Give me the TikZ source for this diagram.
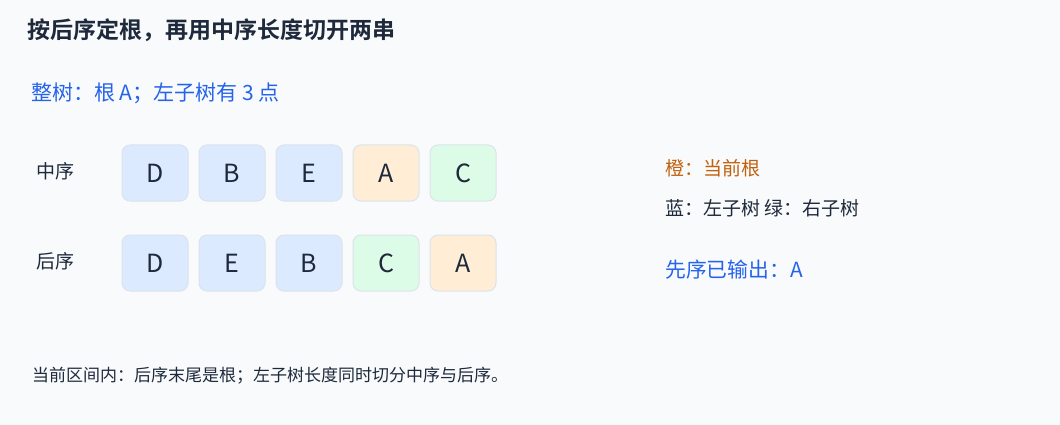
\documentclass[tikz,border=0pt]{standalone}
\usepackage{fontspec}
\setmainfont{Noto Sans CJK SC}
\newfontfamily\cjkbold{Noto Sans CJK SC Bold}
\definecolor{bg}{HTML}{F8FAFC}
\definecolor{ink}{HTML}{1E293B}
\definecolor{blueT}{HTML}{2563EB}
\definecolor{orangeT}{HTML}{C2610C}
\definecolor{fillB}{HTML}{DBEAFE}
\definecolor{fillO}{HTML}{FFEDD5}
\definecolor{fillG}{HTML}{DCFCE7}
\definecolor{edge}{HTML}{DCE3EC}
\tikzset{
  cell/.style={draw=edge, line width=1pt, rounded corners=8pt, minimum width=66pt, minimum height=56pt, inner sep=0pt, text=ink, font=\fontsize{25}{29}\selectfont},
  lbl/.style={anchor=west, inner sep=0pt, text=ink},
}
\begin{document}
\begin{tikzpicture}[x=1pt,y=-1pt]
\fill[bg] (0,0) rectangle (1060,425);
\useasboundingbox (0,0) rectangle (1060,425);
\node[lbl, font=\cjkbold\fontsize{23}{27}\selectfont] (title) at (27,30) {按后序定根，再用中序长度切开两串};
\node[lbl, text=blueT, font=\fontsize{21}{25}\selectfont] (whole) at (31,93) {整树：根 A；左子树有 3 点};
\node[lbl, font=\fontsize{19}{23}\selectfont] (inlbl) at (36,171) {中序};
\node[lbl, font=\fontsize{19}{23}\selectfont] (postlbl) at (36,261) {后序};
% inorder row
\node[cell, fill=fillB] (i1) at (155,173) {D};
\node[cell, fill=fillB] (i2) at (232,173) {B};
\node[cell, fill=fillB] (i3) at (309,173) {E};
\node[cell, fill=fillO] (i4) at (386,173) {A};
\node[cell, fill=fillG] (i5) at (463,173) {C};
% postorder row
\node[cell, fill=fillB] (p1) at (155,263) {D};
\node[cell, fill=fillB] (p2) at (232,263) {E};
\node[cell, fill=fillB] (p3) at (309,263) {B};
\node[cell, fill=fillG] (p4) at (386,263) {C};
\node[cell, fill=fillO] (p5) at (463,263) {A};
% legend
\node[lbl, text=orangeT, font=\fontsize{19}{23}\selectfont] (leg1) at (665,168) {橙：当前根};
\node[lbl, font=\fontsize{19}{23}\selectfont] (leg2) at (665,208) {蓝：左子树 绿：右子树};
\node[lbl, text=blueT, font=\fontsize{20.8}{24}\selectfont] (leg3) at (665,270) {先序已输出：A};
\node[lbl, font=\fontsize{17}{21}\selectfont] (note) at (32,376) {当前区间内：后序末尾是根；左子树长度同时切分中序与后序。};
\end{tikzpicture}
\end{document}
